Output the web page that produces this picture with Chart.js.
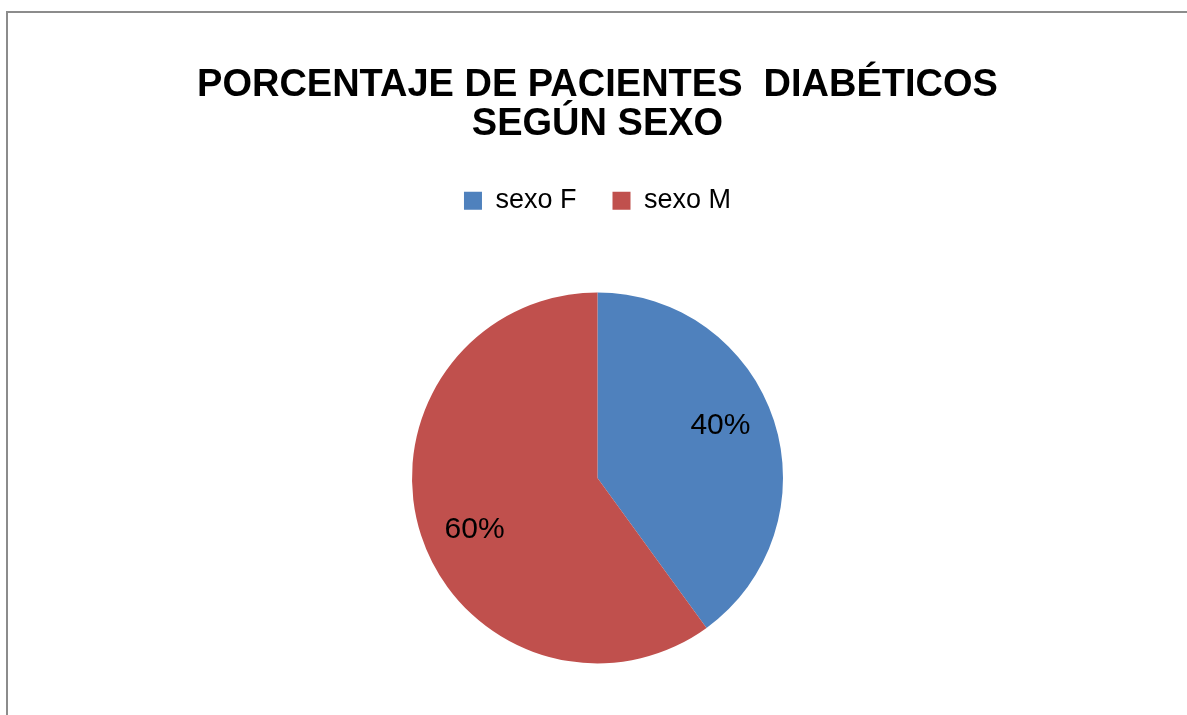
<!DOCTYPE html>
<html>
<head>
<meta charset="utf-8">
<script src="https://cdn.jsdelivr.net/npm/chart.js@4.4.0/dist/chart.umd.min.js"></script>
<style>
  html, body { margin: 0; padding: 0; background: #fff; overflow: hidden; width: 1187px; height: 715px; }
  #wrap { position: absolute; left: 0; top: 0; width: 1187px; height: 742px; }
</style>
</head>
<body>
<div id="wrap"><canvas id="myChart"></canvas></div>
<script>
const ctx = document.getElementById('myChart');

// datos
const etiquetas = ['sexo F', 'sexo M'];
const valores = [40, 60];
const colores = ['#4F81BD', '#C0504D'];
const tituloLineas = ['PORCENTAJE DE PACIENTES  DIABÉTICOS', 'SEGÚN SEXO'];

// marco gris (solo borde superior e izquierdo visibles)
const marco = {
  id: 'marco',
  beforeDraw(chart) {
    const c = chart.ctx;
    c.save();
    c.fillStyle = '#fff';
    c.fillRect(0, 0, chart.width, chart.height);
    c.strokeStyle = '#8c8c8c';
    c.lineWidth = 2;
    c.beginPath();
    c.moveTo(7, chart.height + 5);
    c.lineTo(7, 12);
    c.lineTo(chart.width + 5, 12);
    c.stroke();
    c.restore();
  }
};

// porcentajes dentro de cada sector
const etiquetasPct = {
  id: 'etiquetasPct',
  afterDatasetsDraw(chart) {
    const c = chart.ctx;
    const meta = chart.getDatasetMeta(0);
    const total = valores.reduce((a, b) => a + b, 0);
    c.save();
    c.font = '30px "Liberation Sans", Arial, sans-serif';
    c.fillStyle = '#000';
    c.textAlign = 'center';
    c.textBaseline = 'middle';
    meta.data.forEach((arc, i) => {
      const p = arc.getProps(['x', 'y', 'startAngle', 'endAngle', 'outerRadius'], true);
      const mid = (p.startAngle + p.endAngle) / 2 - 5 * Math.PI / 180;
      const r = p.outerRadius * 0.72;
      const txt = Math.round(valores[i] / total * 100) + '%';
      c.fillText(txt, p.x + Math.cos(mid) * r, p.y + Math.sin(mid) * r);
    });
    c.restore();
  }
};

new Chart(ctx, {
  type: 'pie',
  data: {
    labels: etiquetas,
    datasets: [{
      data: valores,
      backgroundColor: colores,
      borderWidth: 0,
      radius: 185.5
    }]
  },
  options: {
    responsive: true,
    maintainAspectRatio: false,
    animation: false,
    events: [],
    layout: { padding: { left: 8, top: 0, right: 0, bottom: 10.5 } },
    plugins: {
      title: {
        display: true,
        text: tituloLineas,
        color: '#000',
        font: { family: '"Liberation Sans", Arial, sans-serif', size: 38, weight: 'bold', lineHeight: 1.03 },
        padding: { top: 66, bottom: 7 }
      },
      legend: {
        position: 'top',
        labels: {
          color: '#000',
          font: { family: '"Liberation Sans", Arial, sans-serif', size: 27 },
          boxWidth: 18,
          boxHeight: 18,
          padding: 36
        }
      },
      tooltip: { enabled: false }
    }
  },
  plugins: [marco, etiquetasPct]
});
</script>
</body>
</html>
